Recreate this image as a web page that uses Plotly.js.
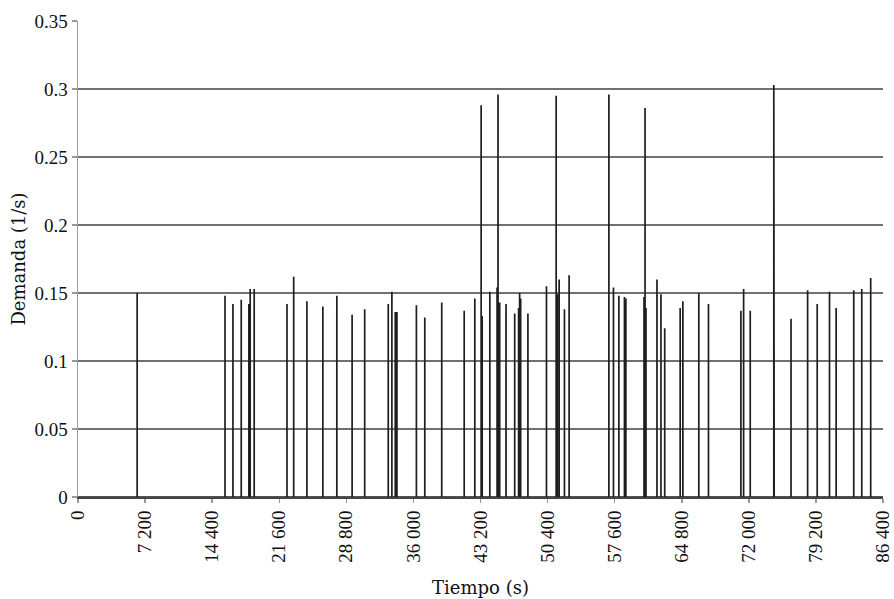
<!DOCTYPE html>
<html>
<head>
<meta charset="utf-8">
<script src="https://cdn.plot.ly/plotly-3.0.1.min.js"></script>
<style>html,body{margin:0;padding:0;background:#fff}#chart{width:894px;height:599px}</style>
</head>
<body>
<div id="chart"></div>
<script>
// Event times (s) and demand peaks (l/s)
const times = [6350,15780,16630,17520,18340,18480,18910,22430,23150,24570,26280,27780,29420,30770,33300,33690,34050,34230,36320,37220,39040,41450,42590,43270,43380,44200,44980,45080,45260,45940,46870,47290,47400,47510,48290,50280,51320,51450,51640,52210,52710,56980,57470,58050,58650,58800,60750,60860,60960,62140,62570,62970,64630,64920,66630,67670,71150,71440,72150,74680,74720,76530,78310,79340,80660,81370,83260,84120,85080];
const demand = [0.150,0.148,0.142,0.145,0.142,0.153,0.153,0.142,0.162,0.144,0.140,0.148,0.134,0.138,0.142,0.151,0.136,0.136,0.141,0.132,0.143,0.137,0.146,0.288,0.133,0.151,0.154,0.296,0.143,0.142,0.135,0.139,0.150,0.146,0.135,0.155,0.295,0.149,0.160,0.138,0.163,0.296,0.154,0.148,0.147,0.146,0.147,0.286,0.139,0.160,0.149,0.124,0.139,0.144,0.150,0.142,0.137,0.153,0.137,0.303,0.152,0.131,0.152,0.142,0.151,0.139,0.152,0.153,0.161];
const xTickVals = [0,7200,14400,21600,28800,36000,43200,50400,57600,64800,72000,79200,86400];
const xTickText = ["0","7 200","14 400","21 600","28 800","36 000","43 200","50 400","57 600","64 800","72 000","79 200","86 400"];
const yTickVals = [0,0.05,0.1,0.15,0.2,0.25,0.3,0.35];
const yTickText = ["0","0.05","0.1","0.15","0.2","0.25","0.3","0.35"];

const xs = [0], ys = [0];
for (let i = 0; i < times.length; i++) {
  xs.push(times[i], times[i], times[i]);
  ys.push(0, demand[i], 0);
}
xs.push(86400); ys.push(0);

const tickFont = {family: "Liberation Serif, serif", color: "#111", size: 19};
const titleFont = {family: "DejaVu Serif, serif", color: "#111", size: 18};

Plotly.newPlot("chart", [{
  x: xs, y: ys, type: "scatter", mode: "lines",
  line: {color: "#1e1e1e", width: 1.7},
  hoverinfo: "skip", showlegend: false
}], {
  width: 894, height: 599,
  margin: {l: 78, r: 11, t: 21, b: 102},
  paper_bgcolor: "#fff", plot_bgcolor: "#fff",
  font: tickFont,
  xaxis: {
    range: [0, 86400], tickvals: xTickVals, ticktext: xTickText, tickangle: -90,
    ticklabeloverflow: "allow",
    showgrid: false, zeroline: false, showline: true, linecolor: "#444", linewidth: 2,
    ticks: "outside", ticklen: 4, tickcolor: "#999", tickwidth: 1.5,
    tickfont: tickFont,
    title: {text: "Tiempo (s)", font: titleFont, standoff: 20}
  },
  yaxis: {
    range: [0, 0.35], tickvals: yTickVals, ticktext: yTickText,
    showgrid: true, gridcolor: "#707070", gridwidth: 1.6,
    zeroline: false, showline: true, linecolor: "#9a9a9a", linewidth: 1.5,
    ticks: "outside", ticklen: 5, tickcolor: "#999", tickwidth: 1.5,
    tickfont: tickFont,
    title: {text: "Demanda (1/s)", font: titleFont, standoff: 4}
  }
}, {staticPlot: true, displayModeBar: false});
</script>
</body>
</html>
